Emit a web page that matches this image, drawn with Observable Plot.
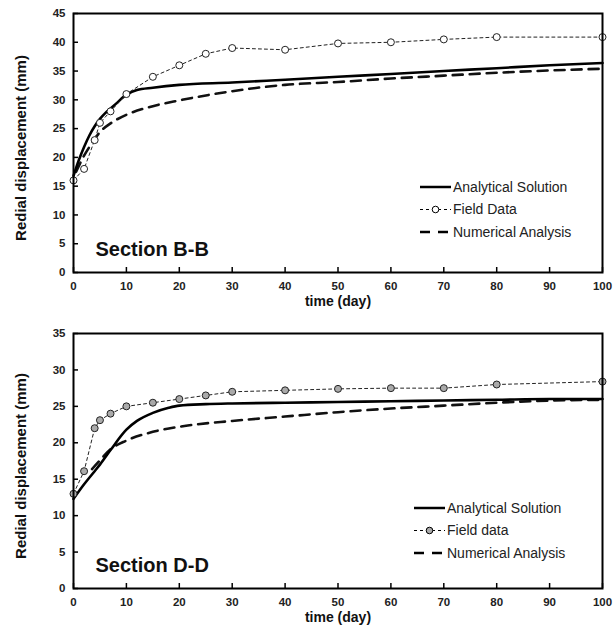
<!DOCTYPE html>
<html><head><meta charset="utf-8">
<script src="https://cdn.jsdelivr.net/npm/d3@7"></script>
<script src="https://cdn.jsdelivr.net/npm/@observablehq/plot@0.6"></script>
<style>
body{margin:0;background:#fff;font-family:Arial,"Liberation Sans",sans-serif;}
#c svg{display:block;}
</style></head><body><div id="c"></div>
<script>
// Section B-B
const bbFieldX = [0,2,4,5,7,10,15,20,25,30,40,50,60,70,80,100];
const bbFieldY = [16,18,23,26,28,31,34,36,38,39,38.7,39.8,40,40.5,40.9,40.9];
const bbAnaX = [0,1,2,3,4,5,6,7,8,10,12,15,20,30,40,50,60,70,80,90,100];
const bbAnaY = [16.8,19.5,21.8,23.8,25.4,26.7,27.7,28.5,29.3,30.9,31.7,32.1,32.6,33,33.5,34,34.5,35,35.5,36,36.4];
const bbNumX = [0.5,2,3,4,5,7,10,15,20,30,40,50,60,70,80,90,100];
const bbNumY = [17.5,20.3,21.8,23.2,24.4,25.9,27.4,28.9,29.9,31.5,32.6,33.1,33.7,34.2,34.7,35.1,35.4];
// Section D-D
const ddFieldX = [0,2,4,5,7,10,15,20,25,30,40,50,60,70,80,100];
const ddFieldY = [13,16.1,22,23.1,24,25,25.5,26,26.5,27,27.2,27.4,27.5,27.5,28,28.4];
const ddAnaX = [0,2,4,5,7,10,12,15,18,20,25,30,40,50,60,70,80,90,100];
const ddAnaY = [12.3,14.3,16.1,17,19,21.8,23,24.1,24.8,25.1,25.3,25.4,25.5,25.6,25.7,25.8,25.9,26,26];
const ddNumX = [3.5,5,7,10,15,20,30,40,50,60,70,80,90,100];
const ddNumY = [16.4,17.6,19.1,20.3,21.5,22.2,23,23.6,24.2,24.7,25.1,25.5,25.8,25.9];

const xTicks = d3.range(0,101,10);
const legendLabelsBB = ["Analytical Solution","Field Data","Numerical Analysis"];
const legendLabelsDD = ["Analytical Solution","Field data","Numerical Analysis"];
const yTitle = "Redial displacement (mm)";
const xTitle = "time (day)";

const zip = (xs, ys) => xs.map((x,i)=>({x, y: ys[i]}));
const FONT = 'Arial, "Liberation Sans", sans-serif';

function legendMark(labels, dotFill, lx, ly){
  return (index, scales, values, dims) => {
    const g = d3.create("svg:g").attr("font-family", FONT).attr("font-size", 14).attr("text-anchor","start");
    const x0 = dims.marginLeft + lx, y0 = dims.marginTop + ly;
    labels.forEach((lab,i)=>{
      const y = y0 + i*22.5;
      if(i===0){
        g.append("line").attr("x1",x0).attr("x2",x0+31).attr("y1",y).attr("y2",y).attr("stroke","#000").attr("stroke-width",2.5);
      } else if(i===1){
        g.append("line").attr("x1",x0).attr("x2",x0+31).attr("y1",y).attr("y2",y).attr("stroke","#000").attr("stroke-width",1).attr("stroke-dasharray","3,3");
        g.append("circle").attr("cx",x0+15.5).attr("cy",y).attr("r",3.3).attr("fill",dotFill).attr("stroke","#000").attr("stroke-width",1);
      } else {
        g.append("line").attr("x1",x0).attr("x2",x0+31).attr("y1",y).attr("y2",y).attr("stroke","#000").attr("stroke-width",2.5).attr("stroke-dasharray","10,8");
      }
      g.append("text").attr("x",x0+33).attr("y",y).attr("dy","0.35em").attr("fill","#222").text(lab);
    });
    return g.node();
  };
}

function chart({field, ana, num, yMax, height, mt, mb, section, dotFill, labels, lx, ly}){
  const yTicks = d3.range(0, yMax+1, 5);
  const ph = height - mt - mb, pw = 613 - 73 - 11;
  return Plot.plot({
    width: 613, height,
    marginLeft: 73, marginRight: 11, marginTop: mt, marginBottom: mb,
    style: {fontFamily: FONT, background: "#fff"},
    x: {domain: [0,100]},
    y: {domain: [0,yMax]},
    marks: [
      Plot.axisY(yTicks, {tickSize: 0, tickPadding: 8, fontSize: 11.5, fontWeight: "bold", fill: "#222", label: null}),
      Plot.axisX(xTicks, {tickSize: 0, tickPadding: 9, fontSize: 11.5, fontWeight: "bold", fill: "#222", label: null}),
      Plot.tickX(xTicks, {x: d => d, insetTop: ph - 5, stroke: "#000", strokeWidth: 1.5}),
      Plot.tickY(yTicks, {y: d => d, insetRight: pw - 5, stroke: "#000", strokeWidth: 1.5}),
      Plot.text([yTitle], {frameAnchor: "left", textAnchor: "middle", lineAnchor: "middle", rotate: -90, dx: -52, dy: 5, fontSize: 15, fontWeight: "bold", fill: "#111"}),
      Plot.text([xTitle], {frameAnchor: "bottom", dy: 33, fontSize: 14, fontWeight: "bold", fill: "#111"}),
      Plot.line(num, {x: "x", y: "y", stroke: "#111", strokeWidth: 2.6, strokeDasharray: "10,7", curve: "monotone-x"}),
      Plot.line(ana, {x: "x", y: "y", stroke: "#000", strokeWidth: 2.6, curve: "monotone-x"}),
      Plot.line(field, {x: "x", y: "y", stroke: "#222", strokeWidth: 1, strokeDasharray: "3,3"}),
      Plot.dot(field, {x: "x", y: "y", r: 3.5, fill: dotFill, stroke: "#222", strokeWidth: 1}),
      Plot.frame({stroke: "#000", strokeWidth: 2}),
      Plot.text([section], {frameAnchor: "bottom-left", dx: 22, dy: -17, fontSize: 20, fontWeight: "bold", fill: "#111"}),
      legendMark(labels, dotFill, lx, ly)
    ]
  });
}

const c = document.getElementById("c");
const top1 = chart({field: zip(bbFieldX,bbFieldY), ana: zip(bbAnaX,bbAnaY), num: zip(bbNumX,bbNumY),
  yMax: 45, height: 318, mt: 13, mb: 46, section: "Section B-B", dotFill: "#fff", labels: legendLabelsBB, lx: 347, ly: 174});
const bot = chart({field: zip(ddFieldX,ddFieldY), ana: zip(ddAnaX,ddAnaY), num: zip(ddNumX,ddNumY),
  yMax: 35, height: 321, mt: 15, mb: 51, section: "Section D-D", dotFill: "#aaa", labels: legendLabelsDD, lx: 341, ly: 175});
c.append(top1, bot);
</script></body></html>
